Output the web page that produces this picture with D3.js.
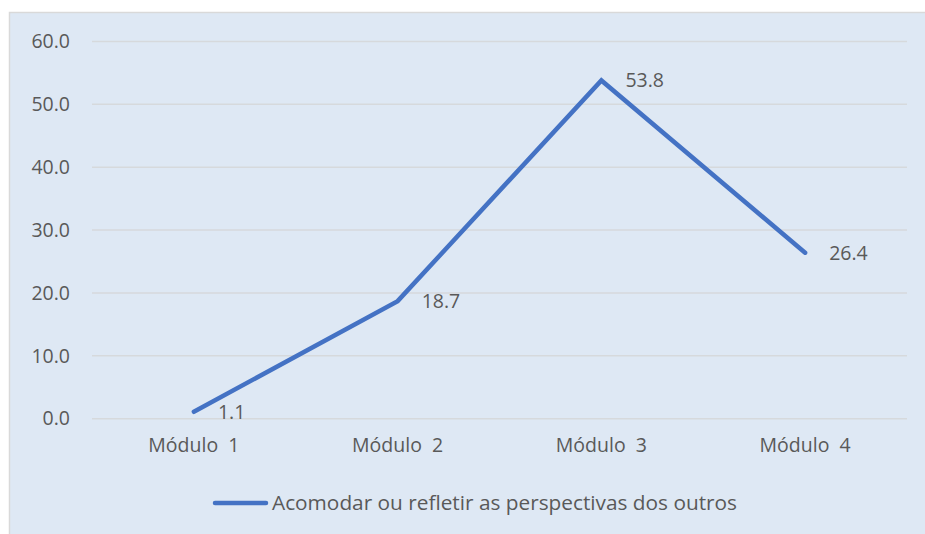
<!DOCTYPE html>
<html>
<head>
<meta charset="utf-8">
<script src="https://cdn.jsdelivr.net/npm/d3@7"></script>
<style>
  body { margin: 0; background: #ffffff; }
  #chart text { font-family: "Open Sans", "Noto Sans", sans-serif; fill: #595959; }
</style>
</head>
<body>
<div id="chart"></div>
<script>
var categories = ["Módulo  1", "Módulo  2", "Módulo  3", "Módulo  4"];
var values = [1.1, 18.7, 53.8, 26.4];
var yTicks = [0, 10, 20, 30, 40, 50, 60];
var seriesName = "Acomodar ou refletir as perspectivas dos outros";

var width = 925,
    height = 534,
    margin = {top: 41.5, right: 18, bottom: 115.3, left: 92},
    fontSize = 19.5;

var svg = d3.select("#chart")
  .append("svg")
  .attr("width", width)
  .attr("height", height);

// chart area background
svg.append("rect")
  .attr("x", 9.5)
  .attr("y", 12.5)
  .attr("width", width)
  .attr("height", height)
  .attr("fill", "#dee8f4")
  .attr("stroke", "#d9d9d9")
  .attr("stroke-width", 1.5);

var x = d3.scaleBand()
  .domain(categories)
  .range([margin.left, width - margin.right])
  .padding(0);

var y = d3.scaleLinear()
  .domain([0, 60])
  .range([height - margin.bottom, margin.top]);

// gridlines
svg.append("g")
  .selectAll("line")
  .data(yTicks)
  .enter()
  .append("line")
  .attr("x1", margin.left)
  .attr("x2", width - margin.right)
  .attr("y1", function (d) { return y(d); })
  .attr("y2", function (d) { return y(d); })
  .attr("stroke", "#d6d9dc")
  .attr("stroke-width", 1.5);

// y axis
var yAxis = d3.axisLeft(y)
  .tickValues(yTicks)
  .tickSize(0)
  .tickPadding(22)
  .tickFormat(d3.format(".1f"));
svg.append("g")
  .attr("transform", "translate(" + margin.left + ",0)")
  .call(yAxis)
  .call(function (g) { g.select(".domain").remove(); })
  .selectAll("text")
  .attr("font-size", fontSize);

// x axis
var xAxis = d3.axisBottom(x)
  .tickSize(0)
  .tickPadding(19);
svg.append("g")
  .attr("transform", "translate(0," + y(0) + ")")
  .call(xAxis)
  .call(function (g) { g.select(".domain").remove(); })
  .selectAll("text")
  .attr("font-size", fontSize)
  .style("white-space", "pre");

// line
var line = d3.line()
  .x(function (d, i) { return x(categories[i]) + x.bandwidth() / 2; })
  .y(function (d) { return y(d); });

svg.append("path")
  .datum(values)
  .attr("d", line)
  .attr("fill", "none")
  .attr("stroke", "#4472c4")
  .attr("stroke-width", 4.5)
  .attr("stroke-linecap", "round")
  .attr("stroke-linejoin", "miter");

// data labels
svg.append("g")
  .selectAll("text")
  .data(values)
  .enter()
  .append("text")
  .attr("x", function (d, i) { return x(categories[i]) + x.bandwidth() / 2 + 24; })
  .attr("y", function (d) { return y(d); })
  .attr("dy", "0.35em")
  .attr("font-size", fontSize)
  .text(function (d) { return d3.format(".1f")(d); });

// legend
var legend = svg.append("g");
legend.append("line")
  .attr("x1", 215)
  .attr("x2", 266)
  .attr("y1", 503)
  .attr("y2", 503)
  .attr("stroke", "#4472c4")
  .attr("stroke-width", 4.5)
  .attr("stroke-linecap", "round");
legend.append("text")
  .attr("x", 272)
  .attr("y", 503)
  .attr("dy", "0.35em")
  .attr("font-size", fontSize)
  .attr("textLength", 465)
  .attr("lengthAdjust", "spacingAndGlyphs")
  .text(seriesName);
</script>
</body>
</html>
